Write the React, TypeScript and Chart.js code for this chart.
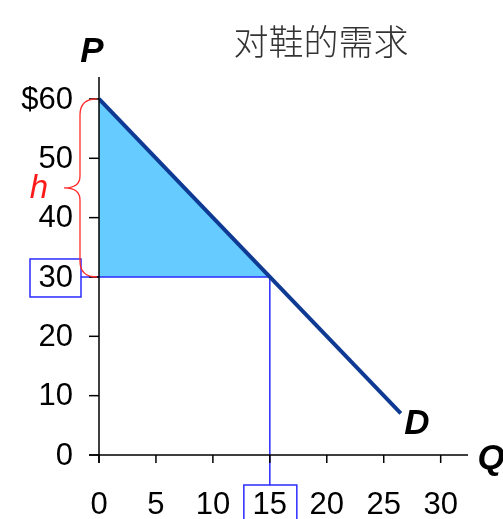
import React, { useEffect, useRef } from "react";
import { Chart, registerables } from "chart.js";

Chart.register(...registerables);

// Demand for shoes: P = 60 - 2Q
const xTicks = [0, 5, 10, 15, 20, 25, 30];
const yTicks = [0, 10, 20, 30, 40, 50, 60];
const demandQ = [0, 26.5];
const demandP = [60, 7];
const eqQ = 15;
const eqP = 30;
const chokeP = 60;
const guideStartQ = -1.6;
const guideEndP = -5.1;
const xMax = 32.4;
const yMax = 63.7;

const FONT = "Arial, 'Liberation Sans', sans-serif";

const axesPlugin = {
  id: "econAxes",
  afterDraw(chart: any) {
    const ctx = chart.ctx as CanvasRenderingContext2D;
    const xs = chart.scales.x;
    const ys = chart.scales.y;
    const x0 = xs.getPixelForValue(0);
    const y0 = ys.getPixelForValue(0);
    const area = chart.chartArea;
    ctx.save();

    // axes
    ctx.strokeStyle = "#000";
    ctx.lineWidth = 1.5;
    ctx.beginPath();
    ctx.moveTo(x0, area.top);
    ctx.lineTo(x0, y0 + 8);
    ctx.moveTo(x0 - 10, y0);
    ctx.lineTo(area.right, y0);
    ctx.stroke();

    // y ticks + labels
    ctx.font = `31px ${FONT}`;
    ctx.fillStyle = "#000";
    ctx.textAlign = "right";
    ctx.textBaseline = "middle";
    yTicks.forEach((v) => {
      const py = ys.getPixelForValue(v);
      ctx.beginPath();
      ctx.moveTo(x0 - 10, py);
      ctx.lineTo(x0, py);
      ctx.stroke();
      ctx.fillText(v === 60 ? "$60" : String(v), x0 - 26, py + 1);
    });

    // x ticks + labels
    ctx.textAlign = "center";
    xTicks.forEach((v) => {
      const px = xs.getPixelForValue(v);
      ctx.beginPath();
      ctx.moveTo(px, y0);
      ctx.lineTo(px, y0 + 8);
      ctx.stroke();
      ctx.fillText(String(v), px, y0 + 50);
    });

    // boxes around the equilibrium labels
    ctx.strokeStyle = "#2b2bff";
    ctx.lineWidth = 1.5;
    const pyEq = ys.getPixelForValue(eqP);
    ctx.strokeRect(30, pyEq - 18, 51, 38);
    const pxEq = xs.getPixelForValue(eqQ);
    ctx.strokeRect(pxEq - 26, y0 + 30, 53, 40);

    // brace marking the height h
    const pyTop = ys.getPixelForValue(chokeP);
    const pyMid = (pyTop + pyEq) / 2;
    const bx = 80;
    ctx.strokeStyle = "#ff2a2a";
    ctx.lineWidth = 1.3;
    ctx.beginPath();
    ctx.moveTo(x0 - 2, pyTop);
    ctx.quadraticCurveTo(bx, pyTop, bx, pyTop + 16);
    ctx.lineTo(bx, pyMid - 12);
    ctx.quadraticCurveTo(bx, pyMid, bx - 16, pyMid);
    ctx.quadraticCurveTo(bx, pyMid, bx, pyMid + 12);
    ctx.lineTo(bx, pyEq - 16);
    ctx.quadraticCurveTo(bx, pyEq, x0 - 2, pyEq);
    ctx.stroke();
    ctx.fillStyle = "#ff1a1a";
    ctx.font = `italic 33px ${FONT}`;
    ctx.textAlign = "center";
    ctx.fillText("h", 39, pyMid + 1);

    // axis names and curve label
    ctx.fillStyle = "#000";
    ctx.font = `italic bold 35px ${FONT}`;
    ctx.fillText("P", 92, 52);
    ctx.fillText("Q", 491, 459);
    ctx.fillText("D", 417, 424);

    // title
    ctx.fillStyle = "#333";
    ctx.font = "300 35px 'Noto Sans CJK SC', sans-serif";
    ctx.fillText("对鞋的需求", 321, 42);

    ctx.restore();
  },
};

export default function App() {
  const ref = useRef<HTMLCanvasElement | null>(null);

  useEffect(() => {
    if (!ref.current) return;
    const chart = new Chart(ref.current, {
      type: "line",
      data: {
        datasets: [
          {
            label: "demand",
            data: demandQ.map((q, i) => ({ x: q, y: demandP[i] })),
            borderColor: "#0f3a94",
            borderWidth: 4,
            pointRadius: 0,
            fill: false,
            order: 0,
          },
          {
            label: "guides",
            data: [
              { x: guideStartQ, y: eqP },
              { x: eqQ, y: eqP },
              { x: eqQ, y: guideEndP },
            ],
            borderColor: "#2b2bff",
            borderWidth: 1.5,
            pointRadius: 0,
            fill: false,
            clip: false,
            order: 1,
          },
          {
            label: "area",
            data: [
              { x: 0, y: chokeP },
              { x: eqQ, y: eqP },
            ],
            borderWidth: 0,
            borderColor: "rgba(0,0,0,0)",
            backgroundColor: "#66ccff",
            pointRadius: 0,
            fill: { value: eqP },
            order: 2,
          },
        ] as any,
      },
      options: {
        responsive: false,
        animation: false,
        layout: { padding: { left: 99, top: 77, right: 35, bottom: 64 } },
        plugins: { legend: { display: false }, tooltip: { enabled: false } },
        scales: {
          x: { type: "linear", min: 0, max: xMax, display: false },
          y: { type: "linear", min: 0, max: yMax, display: false },
        },
      },
      plugins: [axesPlugin],
    });
    return () => chart.destroy();
  }, []);

  return (
    <div style={{ position: "fixed", left: 0, top: 0, width: 503, height: 519, background: "#fff" }}>
      <canvas ref={ref} width={503} height={519} style={{ width: 503, height: 519 }} />
    </div>
  );
}
